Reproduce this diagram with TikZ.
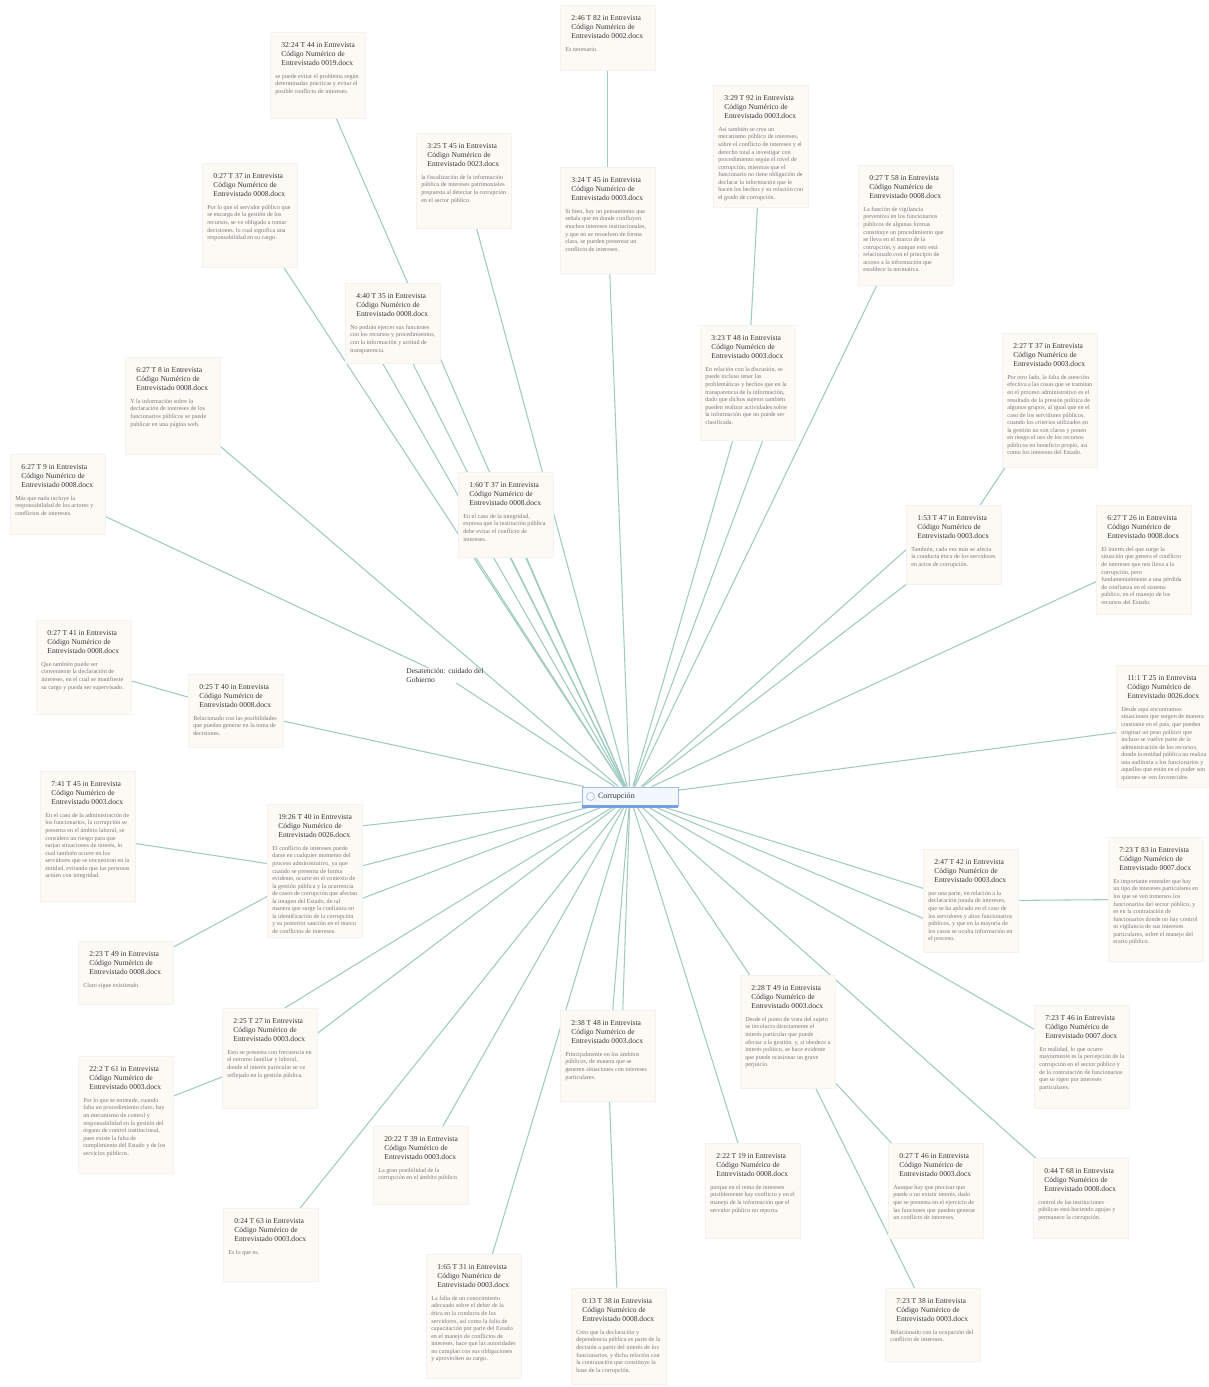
\documentclass[tikz,border=0pt]{standalone}
\usepackage{fontspec}
\setmainfont{Liberation Serif}
\usetikzlibrary{backgrounds}

\definecolor{papel}{RGB}{253,250,246}
\definecolor{tinta}{RGB}{55,55,55}
\definecolor{gris}{RGB}{120,120,120}
\definecolor{verdeenlace}{RGB}{160,203,192}
\definecolor{azul}{RGB}{120,160,225}
\definecolor{azulclaro}{RGB}{243,247,254}

% cabecera de la cita + texto
\newcommand{\cita}[3]{%
  {\fontsize{4.3}{5.2}\selectfont\color{tinta}%
   \hspace*{3.5pt}#1 in Entrevista\\
   \hspace*{3.5pt}Código Numérico de\\
   \hspace*{3.5pt}Entrevistado #2.docx\par}%
  \vspace{3pt}%
  {\fontsize{3.5}{4.3}\selectfont\color{gris}#3\par}}

\tikzset{
  cita/.style={anchor=north west, fill=papel, draw=black!5, line width=0.3pt,
    inner xsep=0.1cm, inner ysep=0.16cm, text width=1.7cm, align=flush left, text height=4pt},
  boxh/.style={text depth=#1*0.02cm-0.32cm-4pt},
  enlace/.style={draw=verdeenlace, line width=0.6pt},
  corr/.style={draw=azul!70, fill=azulclaro, line width=0.5pt, inner xsep=0.1cm,
    text width=1.72cm, minimum height=0.38cm, align=flush left, text=tinta,
    font=\fontsize{4.6}{5}\selectfont,
    path picture={\draw[azul!60, line width=0.4pt]
      ([xshift=0.17cm]path picture bounding box.west) circle (2.3pt);}},
}

\begin{document}
\begin{tikzpicture}[x=0.02cm,y=-0.02cm]
\useasboundingbox (0,0) rectangle (1208,1387);

\node[corr] (cor) at (630,796.5) {\hspace*{0.22cm}Corrupción};
\draw[azul, line width=1.2pt] (cor.south west) -- (cor.south east);

% arriba
\node[cita,boxh=86] (a) at (270,32) {\cita{32:24 T 44}{0019}{se puede evitar el problema según determinadas prácticas y evitar el posible conflicto de intereses.}};
\node[cita,boxh=95] (b) at (416,133) {\cita{3:25 T 45}{0023}{la fiscalización de la información pública de intereses patrimoniales propuesta al detectar la corrupción en el sector público.}};
\node[cita,boxh=65] (c) at (560,5) {\cita{2:46 T 82}{0002}{Es necesario.}};
\node[cita,boxh=106] (d) at (560,167) {\cita{3:24 T 45}{0003}{Si bien, hay un pensamiento que señala que en donde confluyen muchos intereses institucionales, y que no se resuelven de forma clara, se pueden presentar un conflicto de intereses.}};
\node[cita,boxh=122] (e) at (713,85) {\cita{3:29 T 92}{0003}{Así también se crea un mecanismo público de intereses, sobre el conflicto de intereses y el derecho total a investigar con procedimiento según el nivel de corrupción, mientras que el funcionario no tiene obligación de declarar la información que le hacen los hechos y su relación con el grado de corrupción.}};
\node[cita,boxh=115] (f) at (700,325) {\cita{3:23 T 48}{0003}{En relación con la discusión, se puede incluso tener las problemáticas y hechos que en la transparencia de la información, dado que dichos sujetos también pueden realizar actividades sobre la información que no puede ser clasificada.}};
\node[cita,boxh=120] (g) at (858,165) {\cita{0:27 T 58}{0008}{La función de vigilancia preventiva en los funcionarios públicos de algunas formas constituye un procedimiento que se lleva en el marco de la corrupción, y aunque esto está relacionado con el principio de acceso a la información que establece la normativa.}};
\node[cita,boxh=134] (h) at (1002,333) {\cita{2:27 T 37}{0003}{Por otro lado, la falta de atención efectiva a las cosas que se tramitan en el proceso administrativo es el resultado de la presión política de algunos grupos, al igual que en el caso de los servidores públicos, cuando los criterios utilizados en la gestión no son claros y ponen en riesgo el uso de los recursos públicos en beneficio propio, así como los intereses del Estado.}};
\node[cita,boxh=79] (i) at (906,505) {\cita{1:53 T 47}{0003}{También, cada vez más se afecta la conducta ética de los servidores en actos de corrupción.}};
\node[cita,boxh=109] (j) at (1096,505) {\cita{6:27 T 26}{0008}{El interés del que surge la situación que genera el conflicto de intereses que nos lleva a la corrupción, pero fundamentalmente a una pérdida de confianza en el sistema público, en el manejo de los recursos del Estado.}};

% izquierda
\node[cita,boxh=104] (hh) at (202,163) {\cita{0:27 T 37}{0008}{Por lo que el servidor público que se encarga de la gestión de los recursos, se ve obligado a tomar decisiones, lo cual significa una responsabilidad en su cargo.}};
\node[cita,boxh=80] (ii) at (345,283) {\cita{4:40 T 35}{0008}{No podrán ejercer sus funciones con los recursos y procedimientos, con la información y actitud de transparencia.}};
\node[cita,boxh=85] (jj) at (458,472) {\cita{1:60 T 37}{0008}{En el caso de la integridad, expresa que la institución pública debe evitar el conflicto de intereses.}};
\node[cita,boxh=97] (gg) at (125,357) {\cita{6:27 T 8}{0008}{Y la información sobre la declaración de intereses de los funcionarios públicos se puede publicar en una página web.}};
\node[cita,boxh=80] (ff) at (10,454) {\cita{6:27 T 9}{0008}{Más que nada incluye la responsabilidad de los actores y conflictos de intereses.}};
\node[anchor=north west, inner sep=0pt, align=flush left, text=tinta,
  font=\fontsize{4.3}{5.2}\selectfont] (desat) at (406,668) {Desatención: cuidado del\\Gobierno};
\node[cita,boxh=94] (ee) at (36,620) {\cita{0:27 T 41}{0008}{Que también puede ser conveniente la declaración de intereses, en el cual se manifieste su cargo y pueda ser supervisado.}};
\node[cita,boxh=73] (dd) at (188,674) {\cita{0:25 T 40}{0008}{Relacionado con las posibilidades que puedan generar en la toma de decisiones.}};
\node[cita,boxh=130] (cc) at (40,771) {\cita{7:41 T 45}{0003}{En el caso de la administración de los funcionarios, la corrupción se presenta en el ámbito laboral, se considera un riesgo para que surjan situaciones de interés, lo cual también ocurre en los servidores que se encuentran en la entidad, evitando que las personas actúen con integridad.}};
\node[cita,boxh=133] (bb) at (267,804) {\cita{19:26 T 40}{0026}{El conflicto de intereses puede darse en cualquier momento del proceso administrativo, ya que cuando se presenta de forma evidente, ocurre en el contexto de la gestión pública y la ocurrencia de casos de corrupción que afectan la imagen del Estado, de tal manera que surge la confianza en la identificación de la corrupción y su posterior sanción en el marco de conflictos de intereses.}};
\node[cita,boxh=63] (aa) at (78,941) {\cita{2:23 T 49}{0008}{Claro sigue existiendo.}};

% abajo
\node[cita,boxh=100] (y) at (222,1008) {\cita{2:25 T 27}{0003}{Esto se presenta con frecuencia en el entorno familiar y laboral, donde el interés particular se ve reflejado en la gestión pública.}};
\node[cita,boxh=117] (z) at (78,1056) {\cita{22:2 T 61}{0003}{Por lo que se entiende, cuando falta un procedimiento claro, hay un mecanismo de control y responsabilidad en la gestión del órgano de control institucional, pues existe la falta de cumplimiento del Estado y de los servicios públicos.}};
\node[cita,boxh=73] (x) at (223,1208) {\cita{0:24 T 63}{0003}{Es lo que es.}};
\node[cita,boxh=78] (w) at (373,1126) {\cita{20:22 T 39}{0003}{La gran posibilidad de la corrupción en el ámbito público.}};
\node[cita,boxh=124] (v) at (426,1254) {\cita{1:65 T 31}{0003}{La falta de un conocimiento adecuado sobre el deber de la ética en la conducta de los servidores, así como la falta de capacitación por parte del Estado en el manejo de conflictos de intereses, hace que las autoridades no cumplan con sus obligaciones y aprovechen su cargo.}};
\node[cita,boxh=91] (s) at (560,1010) {\cita{2:38 T 48}{0003}{Principalmente en los ámbitos públicos, de manera que se generen situaciones con intereses particulares.}};
\node[cita,boxh=96] (t) at (571,1288) {\cita{0:13 T 38}{0008}{Creo que la declaración y dependencia pública es parte de la decisión a partir del interés de los funcionarios, y dicha relación con la contratación que constituye la base de la corrupción.}};
\node[cita,boxh=95] (u) at (705,1143) {\cita{2:22 T 19}{0008}{porque en el tema de intereses posiblemente hay conflicto y en el manejo de la información que el servidor público no reporta.}};
\node[cita,boxh=113] (o) at (740,975) {\cita{2:28 T 49}{0003}{Desde el punto de vista del sujeto se involucra directamente el interés particular que puede afectar a la gestión, y, si obedece a interés político, se hace evidente que puede ocasionar un grave perjuicio.}};
\node[cita,boxh=95] (p) at (888,1143) {\cita{0:27 T 46}{0003}{Aunque hay que precisar que puede o no existir interés, dado que se presenta en el ejercicio de las funciones que pueden generar un conflicto de intereses.}};
\node[cita,boxh=73] (r) at (885,1288) {\cita{7:23 T 38}{0003}{Relacionado con la ocupación del conflicto de intereses.}};
\node[cita,boxh=80] (q) at (1033,1158) {\cita{0:44 T 68}{0008}{control de las instituciones públicas está haciendo agujas y permanece la corrupción.}};
\node[cita,boxh=103] (n) at (1034,1005) {\cita{7:23 T 46}{0007}{En realidad, lo que ocurre mayormente es la percepción de la corrupción en el sector público y de la contratación de funcionarios que se rigen por intereses particulares.}};

% derecha
\node[cita,boxh=103] (l) at (923,849) {\cita{2:47 T 42}{0003}{por una parte, en relación a la declaración jurada de intereses, que se ha aplicado en el caso de los servidores y altos funcionarios públicos, y que en la mayoría de los casos se oculta información en el proceso.}};
\node[cita,boxh=124] (m) at (1108,837) {\cita{7:23 T 83}{0007}{Es importante entender que hay un tipo de intereses particulares en los que se ven inmersos los funcionarios del sector público, y es en la contratación de funcionarios donde no hay control ni vigilancia de sus intereses particulares, sobre el manejo del erario público.}};
\node[cita,boxh=122] (k) at (1116,665) {\cita{11:1 T 25}{0026}{Desde aquí encontramos situaciones que surgen de manera constante en el país, que pueden originar un peso político que incluso se vuelve parte de la administración de los recursos, donde la entidad pública no realiza una auditoría a los funcionarios y aquellos que están en el poder son quienes se ven favorecidos.}};

\begin{scope}[on background layer]
\fill[white] (0,0) rectangle (1208,1387);
\foreach \n in {a,b,d,g,hh,gg,dd,ii,j,k,n,o,q,u,v,w,x,desat}
  \draw[enlace] (\n) -- (cor);
\draw[enlace] ([xshift=-0.3cm]f.south) -- (cor);
\draw[enlace] ([xshift=0.3cm]f.south) -- (cor);
\draw[enlace] ([xshift=-0.2cm]ii.south) -- (cor);
\draw[enlace] ([xshift=-0.6cm]jj.south) -- (cor);
\draw[enlace] ([xshift=0.1cm]jj.south) -- (cor);
\draw[enlace] ([xshift=0.4cm]jj.south) -- (cor);
\draw[enlace] ([yshift=-0.1cm]i.west) -- (cor);
\draw[enlace] (i.south west) -- (cor);
\draw[enlace] ([yshift=0.25cm]l.west) -- (cor);
\draw[enlace] ([yshift=-0.35cm]l.west) -- (cor);
\draw[enlace] ([yshift=0.9cm]bb.east) -- (cor);
\draw[enlace] ([yshift=0.1cm]bb.east) -- (cor);
\draw[enlace] ([yshift=-0.55cm]bb.east) -- (cor);
\draw[enlace] ([xshift=0.3cm]y.north) -- (cor);
\draw[enlace] ([yshift=0.5cm]y.east) -- (cor);
\draw[enlace] ([xshift=0.1cm]s.north) -- (cor);
\draw[enlace] ([xshift=0.3cm]s.north) -- (cor);
% citas enlazadas entre sí
\draw[enlace] (c) -- (d);
\draw[enlace] (e) -- (f);
\draw[enlace] (h) -- (i);
\draw[enlace] (ff) -- (desat);
\draw[enlace] (ee) -- (dd);
\draw[enlace] (cc) -- (bb);
\draw[enlace] (aa) -- (bb);
\draw[enlace] (z) -- (y);
\draw[enlace] (m) -- (l);
\draw[enlace] (o) -- (p);
\draw[enlace] (o) -- (r);
\draw[enlace] (s) -- (t);
\end{scope}
\end{tikzpicture}
\end{document}
